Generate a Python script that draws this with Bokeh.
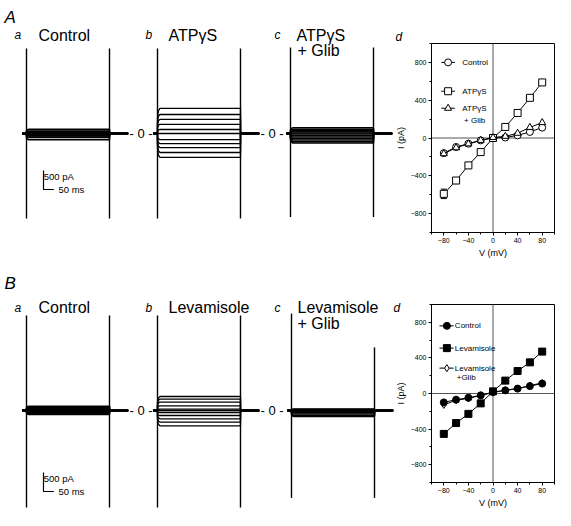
from bokeh.plotting import figure
from bokeh.models import (Label, FixedTicker, Range1d, Whisker, ColumnDataSource, TeeHead,
                          LinearAxis)
from bokeh.core.properties import value
from bokeh.embed import file_html
from bokeh.resources import INLINE

FONT = "Liberation Sans"

# ---------------- I-V data (mV, pA) ----------------
voltages = [-80, -60, -40, -20, 0, 20, 40, 60, 80]
A_control = [-160, -95, -60, -25, 0, 5, 28, 64, 110]
A_atp = [-591, -450, -290, -149, 0, 117, 265, 425, 588]
A_atp_err = [50, 32, 0, 0, 0, 0, 0, 0, 30]
A_atp_glib = [-166, -103, -62, -25, 5, 18, 50, 112, 163]
B_control = [-100, -69, -48, -21, 17, 35, 55, 83, 111]
B_lev = [-454, -332, -229, -111, 24, 145, 253, 350, 471]
B_lev_glib = [-128, -76, -55, -21, 10, 38, 55, 90, 118]
iv_xticks = [-80, -40, 0, 40, 80]
iv_xminor = [-100, -60, -20, 20, 60, 100]
iv_yticks = [-800, -400, 0, 400, 800]
iv_yminor = [-1000, -600, -200, 200, 600, 1000]

# ---------------- current traces: steady-state level of each sweep (pA) ----------------
Aa_levels = [110, 64, 28, 5, 0, -25, -60, -95, -160]
Ab_levels = [660, 500, 370, 240, 105, 0, -160, -265, -370, -500, -630]
Ac_levels = [150, 115, 80, 45, 15, -15, -50, -90, -130, -170, -215, -250]
Ba_levels = [111, 83, 55, 35, 17, 0, -21, -48, -69, -100]
Bb_levels = [368, 300, 221, 124, 37, 0, -53, -132, -218, -305, -402]
Bc_levels = [40, 25, 10, 0, -15, -30, -60, -95, -130, -160]
# capacitive transients [onset max, onset min, offset max, offset min] (pA)
Aa_spikes = [2240, -2240, 2240, -2240]
Ab_spikes = [2240, -2240, 2240, -2240]
Ac_spikes = [2260, -2200, 2260, -2200]
Ba_spikes = [2500, -2550, 2500, -2550]
Bb_spikes = [2500, -2550, 2500, -2550]
Bc_spikes = [2550, -2300, 1660, -2300]

pulse_ms = 400
pre_ms = 20
tail_ms = 90
zero_label_ms = 552
scale_pA = 500
scale_ms = 50

# sweep template (time in ms, fraction of steady level)
shape_t = [-pre_ms, 0, 0, 4, 12, pulse_ms, pulse_ms, pulse_ms + tail_ms]
shape_f = [0, 0, 0.6, 0.9, 1, 1, 0, 0]

# ---------------- page layout (pixels) ----------------
MS_PX = 400 / 83.0
PA_PX = 500 / 19.0
X0, X1, Y0, Y1 = 0, 555, 0, 510

p = figure(width=X1 - X0, height=Y1 - Y0, x_range=Range1d(X0, X1), y_range=Range1d(Y1, Y0),
           x_axis_type=None, y_axis_type=None, title=None, toolbar_location=None,
           output_backend="svg", min_border=0, min_border_left=0, min_border_right=0,
           min_border_top=0, min_border_bottom=0)
p.outline_line_color = None
p.background_fill_color = "white"
p.border_fill_color = "white"


def txt(t, x, y, size, style="normal", baseline="alphabetic", align="left", **kw):
    p.add_layout(Label(x=x, y=y, text=t, text_font_size=size, text_font_style=style,
                       text_font=FONT, text_baseline=baseline, text_align=align,
                       text_color="black", **kw))


def trace_panel(name, onset, base, levels, spikes, zero=True, scale_y_px=None, lw=1.3):
    p.extra_x_ranges[name] = Range1d((X0 - onset) * MS_PX, (X1 - onset) * MS_PX)
    p.extra_y_ranges[name] = Range1d((base - Y1) * PA_PX, (base - Y0) * PA_PX)
    kw = dict(x_range_name=name, y_range_name=name)
    xs = [shape_t for _ in levels]
    ys = [[f * lv for f in shape_f] for lv in levels]
    p.multi_line(xs=xs, ys=ys, line_color="black", line_width=lw, **kw)
    p.line([pulse_ms, pulse_ms + tail_ms], [0, 0], line_color="black", line_width=2.2, **kw)
    p.line([-pre_ms, 0], [0, 0], line_color="black", line_width=2.0, **kw)
    p.segment(x0=[0, pulse_ms], x1=[0, pulse_ms], y0=[spikes[1], spikes[3]],
              y1=[spikes[0], spikes[2]], line_color="black", line_width=1.4, **kw)
    if zero:
        txt("- 0 -", zero_label_ms, 0, "13px", baseline="middle", align="center", **kw)
    if scale_y_px is not None:
        t0 = (43 - onset) * MS_PX
        y0 = (base - scale_y_px) * PA_PX
        p.line([t0, t0, t0 + scale_ms], [y0 + scale_pA, y0, y0], line_color="black",
               line_width=1.2, **kw)
        txt(f"{scale_pA} pA", t0 + 0.3 * MS_PX, y0 + scale_pA - 6 * PA_PX, "9.5px", **kw)
        txt(f"{scale_ms} ms", t0 + 15 * MS_PX, y0, "9.5px", baseline="middle", **kw)


def iv_panel(name, fl, fr, ft, fb, series, legend, err=None):
    sx = 200.0 / (fr - fl)
    sy = 2000.0 / (fb - ft)
    p.extra_x_ranges[name] = Range1d(-100 - (fl - X0) * sx, 100 + (X1 - fr) * sx)
    p.extra_y_ranges[name] = Range1d(-1000 - (Y1 - fb) * sy, 1000 + (ft - Y0) * sy)
    kw = dict(x_range_name=name, y_range_name=name)

    # frame and zero lines
    p.quad(left=[-100], right=[100], bottom=[-1000], top=[1000], fill_color=None,
           line_color="black", line_width=1, **kw)
    p.segment(x0=[0, -100], x1=[0, 100], y0=[-1000, 0], y1=[1000, 0],
              line_color="#555555", line_width=1, **kw)

    xa = LinearAxis(fixed_location=-1000, bounds=(-100, 100), axis_label="V (mV)",
                    ticker=FixedTicker(ticks=iv_xticks, minor_ticks=iv_xminor), **kw)
    ya = LinearAxis(fixed_location=-100, bounds=(-1000, 1000), axis_label="I (pA)",
                    ticker=FixedTicker(ticks=iv_yticks, minor_ticks=iv_yminor), **kw)
    for ax in (xa, ya):
        ax.major_tick_in = 0
        ax.major_tick_out = 3
        ax.minor_tick_in = 0
        ax.minor_tick_out = 2
        ax.axis_line_color = "black"
        ax.major_tick_line_color = "black"
        ax.minor_tick_line_color = "black"
        ax.major_label_text_font_size = "7px"
        ax.major_label_text_font = FONT
        ax.major_label_text_color = "black"
        ax.major_label_standoff = 2
        ax.axis_label_text_font_size = "9px"
        ax.axis_label_text_font_style = "normal"
        ax.axis_label_text_font = FONT
        ax.axis_label_text_color = "black"
        ax.axis_label_standoff = 2
    p.add_layout(xa, "below")
    p.add_layout(ya, "left")

    if err is not None:
        vals, errs = err
        src = ColumnDataSource(dict(x=voltages, lo=[v - e for v, e in zip(vals, errs)],
                                    hi=[v + e for v, e in zip(vals, errs)]))
        p.add_layout(Whisker(source=src, base="x", lower="lo", upper="hi",
                             line_color="black", line_width=1,
                             lower_head=TeeHead(size=6, line_color="black"),
                             upper_head=TeeHead(size=6, line_color="black"), **kw))

    for vals, marker, fill in series:
        p.line(voltages, vals, line_color="black", line_width=1, **kw)
        p.scatter(voltages, vals, marker=marker, size=7, fill_color=fill,
                  line_color="black", line_width=1, **kw)

    for (marker, fill, lines), (mx, sx0, sx1, tx, ys) in zip(legend[0], legend[1]):
        p.segment(x0=[sx0], x1=[sx1], y0=[ys[0]], y1=[ys[0]], line_color="black",
                  line_width=1, **kw)
        p.scatter([mx], [ys[0]], marker=marker, size=7, fill_color=fill,
                  line_color="black", line_width=1, **kw)
        for i, t in enumerate(lines):
            p.text(x=[tx + (3 if i > 0 else 0)], y=[ys[i]], text=[t],
                   text_font=value(FONT), text_font_size="8px",
                   text_baseline="middle", text_color="black", **kw)


# ---------------- panel A ----------------
txt("A", 4, 17, "17px", "italic")
txt("a", 14, 34, "12px", "italic")
txt("Control", 38, 35, "16px")
txt("b", 145, 34, "12px", "italic")
txt("ATPγS", 168, 35, "16px")
txt("c", 274, 34, "12px", "italic")
txt("ATPγS", 296, 35, "16px")
txt("+ Glib", 297, 50, "16px")
txt("d", 395, 36, "12px", "italic")
trace_panel("Aa", 26, 133, Aa_levels, Aa_spikes, scale_y_px=189, lw=1.7)
trace_panel("Ab", 157, 133, Ab_levels, Ab_spikes)
trace_panel("Ac", 290, 133, Ac_levels, Ac_spikes, zero=False, lw=1.5)
iv_panel("Ad", 431, 554, 43, 232,
         [(A_control, "circle", "white"), (A_atp, "square", "white"),
          (A_atp_glib, "triangle", "white")],
         ([("circle", "white", ["Control"]), ("square", "white", ["ATPγS"]),
           ("triangle", "white", ["ATPγS", "+ Glib"])],
          [(-73, -84, -62, -50, [800]), (-73, -84, -62, -50, [495]),
           (-73, -84, -62, -50, [315, 190])]),
         err=(A_atp, A_atp_err))

# ---------------- panel B ----------------
txt("B", 4, 283, "17px", "italic")
txt("a", 14, 307, "12px", "italic")
txt("Control", 38, 307, "16px")
txt("b", 145, 307, "12px", "italic")
txt("Levamisole", 168, 307, "16px")
txt("c", 274, 307, "12px", "italic")
txt("Levamisole", 297, 307, "16px")
txt("+ Glib", 297, 323, "16px")
txt("d", 393, 307, "12px", "italic")
trace_panel("Ba", 26, 410, Ba_levels, Ba_spikes, scale_y_px=491, lw=1.7)
trace_panel("Bb", 157, 410, Bb_levels, Bb_spikes)
trace_panel("Bc", 291, 410, Bc_levels, Bc_spikes, zero=False, lw=1.5)
iv_panel("Bd", 431, 554, 304, 482,
         [(B_lev_glib, "diamond", "white"), (B_control, "circle", "black"),
          (B_lev, "square", "black")],
         ([("circle", "black", ["Control"]), ("square", "black", ["Levamisole"]),
           ("diamond", "white", ["Levamisole", "+Glib"])],
          [(-75, -87, -64, -62, [760]), (-75, -87, -64, -62, [510]),
           (-75, -87, -64, -62, [285, 180])]))

open("out.html", "w").write(file_html(p, INLINE))
